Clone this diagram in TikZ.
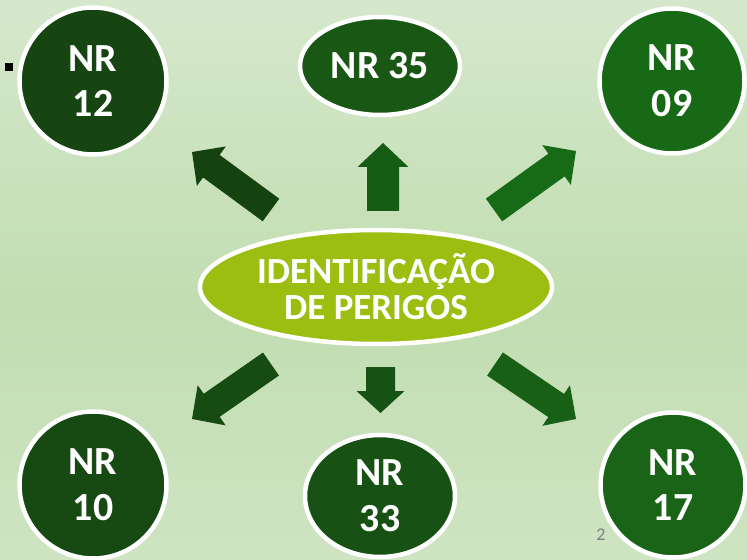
\documentclass[tikz,border=0pt]{standalone}
\usepackage{fontspec}
\setmainfont{Carlito}
\usetikzlibrary{shapes.geometric,calc}
\definecolor{bgtop}{RGB}{214,232,204}
\definecolor{bgmid}{RGB}{193,221,177}
\definecolor{bgbot}{RGB}{207,228,194}
\definecolor{cA}{RGB}{22,69,17}
\definecolor{cB}{RGB}{25,88,20}
\definecolor{cC}{RGB}{24,105,22}
\definecolor{cD}{RGB}{23,74,19}
\definecolor{cE}{RGB}{23,81,20}
\definecolor{cF}{RGB}{25,100,22}
\definecolor{aA}{RGB}{20,67,16}
\definecolor{aB}{RGB}{23,92,21}
\definecolor{aC}{RGB}{23,106,22}
\definecolor{aD}{RGB}{22,75,18}
\definecolor{aE}{RGB}{22,82,19}
\definecolor{aF}{RGB}{24,96,22}
\definecolor{core}{RGB}{155,190,16}
\newcommand\blockarr[6]{%
  \coordinate (hb) at ($(#2)!#6!(#1)$);
  \fill[#3] ($(#1)!#4!90:(#2)$) -- ($(hb)!#4!90:(#2)$) -- ($(hb)!#5!90:(#2)$) -- (#2)
    -- ($(hb)!#5!-90:(#2)$) -- ($(hb)!#4!-90:(#2)$) -- ($(#1)!#4!-90:(#2)$) -- cycle;}
\tikzset{
  nrbase/.style={draw=white, line width=4.5bp, inner sep=0pt, text=white, align=center,
    font=\fontsize{40}{46}\selectfont\bfseries},
  nrcirc/.style={nrbase, circle, minimum size=#1},
  nrell/.style={nrbase, ellipse},
}
\begin{document}
\begin{tikzpicture}[x=1bp,y=-1bp]
\useasboundingbox (0,0) rectangle (747,560);
\shade[top color=bgtop, bottom color=bgmid] (0,0) rectangle (747,300);
\shade[top color=bgmid, bottom color=bgbot] (0,300) rectangle (747,560);
\fill[black] (5,63) rectangle (13,71);
\node[text=gray, font=\fontsize{18}{20}\selectfont] (pg) at (601,535) {2};
% nodes
\node[nrcirc=147bp, fill=cA] (n12) at (93,81) {NR\\12};
\node[nrell, fill=cB, minimum width=160bp, minimum height=98bp] (n35) at (380,66) {NR 35};
\node[nrcirc=145bp, fill=cC] (n09) at (672,81) {NR\\09};
\node[nrcirc=147bp, fill=cD] (n10) at (93,485) {NR\\10};
\node[nrell, fill=cE, minimum width=150bp, minimum height=122bp] (n33) at (380,496) {NR\\33};
\node[nrcirc=145bp, fill=cF] (n17) at (673,485) {NR\\17};
\node[nrell, fill=core, minimum width=352bp, minimum height=114bp,
  font=\fontsize{37}{36}\selectfont\bfseries] (core) at (376,287) {IDENTIFICAÇÃO\\DE PERIGOS};
% arrows
\coordinate (t1) at (271,210); \coordinate (p1) at (192,152);
\coordinate (t2) at (383,211); \coordinate (p2) at (383,143);
\coordinate (t3) at (494,210); \coordinate (p3) at (576,151);
\coordinate (t4) at (271,364); \coordinate (p4) at (192,419);
\coordinate (t5) at (380.5,367); \coordinate (p5) at (380.5,413);
\coordinate (t6) at (495,364); \coordinate (p6) at (576,419);
\blockarr{t1}{p1}{aA}{14bp}{24.5bp}{24bp}
\blockarr{t2}{p2}{aB}{16bp}{25.5bp}{24bp}
\blockarr{t3}{p3}{aC}{14bp}{24.5bp}{24bp}
\blockarr{t4}{p4}{aD}{14bp}{24.5bp}{24bp}
\blockarr{t5}{p5}{aE}{14.5bp}{24bp}{22bp}
\blockarr{t6}{p6}{aF}{14bp}{24.5bp}{24bp}
\end{tikzpicture}
\end{document}
